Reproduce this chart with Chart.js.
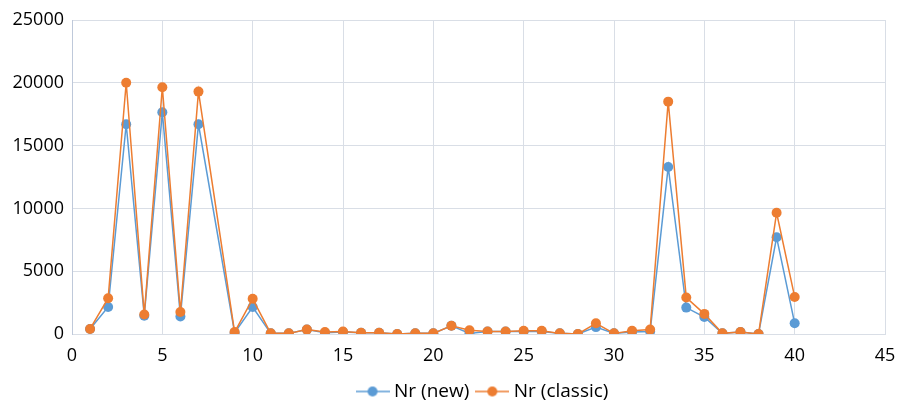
<!DOCTYPE html>
<html>
<head>
<meta charset="utf-8">
<script src="https://cdn.jsdelivr.net/npm/chart.js@4.4.1/dist/chart.umd.min.js"></script>
<style>
  html, body { margin: 0; padding: 0; background: #fff; }
  #wrap { width: 899px; height: 404px; position: relative; }
</style>
</head>
<body>
<div id="wrap"><canvas id="c"></canvas></div>
<script>
// x positions (no point at 8)
const xs = [1, 2, 3, 4, 5, 6, 7, 9, 10, 11, 12, 13, 14, 15, 16, 17, 18, 19, 20, 21,
  22, 23, 24, 25, 26, 27, 28, 29, 30, 31, 32, 33, 34, 35, 36, 37, 38, 39, 40]

const nrNew = [400, 2150, 16700, 1450, 17650, 1400, 16700, 100, 2150, 50, 50, 350, 100, 150, 100, 100, 0, 50, 50, 650,
  50, 200, 200, 200, 200, 50, 0, 550, 50, 150, 200, 13300, 2100, 1350, 50, 150, 0, 7700, 850]

const nrClassic = [400, 2850, 20000, 1550, 19650, 1750, 19300, 150, 2800, 50, 50, 350, 150, 200, 100, 100, 0, 50, 50, 650,
  300, 200, 200, 250, 250, 50, 0, 850, 50, 250, 350, 18500, 2900, 1600, 50, 150, 0, 9650, 2950]

const blue = "#5B9BD5"
const orange = "#ED7D31"
const fontFamily = "'Open Sans', 'Liberation Sans', sans-serif"

function toPoints(vals) {
  return xs.map((x, i) => ({ x: x, y: vals[i] }))
}

// legend marker: short line with a dot in the middle
function legendIcon(color) {
  const cv = document.createElement("canvas")
  cv.width = 34
  cv.height = 12
  const ctx = cv.getContext("2d")
  ctx.strokeStyle = color
  ctx.lineWidth = 1.5
  ctx.beginPath()
  ctx.moveTo(0, 6)
  ctx.lineTo(34, 6)
  ctx.stroke()
  ctx.fillStyle = color
  ctx.beginPath()
  ctx.arc(17, 6, 5, 0, Math.PI * 2)
  ctx.fill()
  return cv
}

// nudge the legend to where the original sits
const legendShift = {
  id: "legendShift",
  afterLayout(chart) {
    const lg = chart.legend
    lg.left += 42
    lg.right += 42
    lg.top += 7
    lg.bottom += 7
  }
}

new Chart(document.getElementById("c"), {
  type: "line",
  data: {
    datasets: [
      {
        label: "Nr (new)",
        data: toPoints(nrNew),
        borderColor: blue,
        backgroundColor: blue,
        borderWidth: 1.5,
        pointRadius: 5,
        pointHoverRadius: 5,
        pointBorderWidth: 0,
        tension: 0,
        order: 1
      },
      {
        label: "Nr (classic)",
        data: toPoints(nrClassic),
        borderColor: orange,
        backgroundColor: orange,
        borderWidth: 1.5,
        pointRadius: 5,
        pointHoverRadius: 5,
        pointBorderWidth: 0,
        tension: 0,
        order: 0
      }
    ]
  },
  plugins: [legendShift],
  options: {
    responsive: true,
    maintainAspectRatio: false,
    animation: false,
    layout: {
      padding: { left: 0, right: 14, top: 20, bottom: 0 }
    },
    plugins: {
      tooltip: { enabled: false },
      legend: {
        position: "bottom",
        labels: {
          font: { family: fontFamily, size: 19 },
          color: "#000",
          usePointStyle: true,
          pointStyleWidth: 24,
          boxWidth: 24,
          padding: 11,
          sort: (a, b) => a.datasetIndex - b.datasetIndex,
          generateLabels: (chart) => chart.data.datasets.map((ds, i) => ({
            text: ds.label,
            pointStyle: legendIcon(ds.borderColor),
            fillStyle: ds.borderColor,
            strokeStyle: ds.borderColor,
            lineWidth: 0,
            hidden: false,
            datasetIndex: i,
            fontColor: "#000"
          }))
        }
      }
    },
    scales: {
      x: {
        type: "linear",
        min: 0,
        max: 45,
        ticks: {
          stepSize: 5,
          color: "#000",
          font: { family: fontFamily, size: 18 },
          padding: 11,
          maxRotation: 0
        },
        grid: { color: "#D9DEE6", drawTicks: false },
        border: { color: "#D9DEE6" },
        afterFit: (scale) => {
          scale.height = 30
          scale.paddingRight = 0
        }
      },
      y: {
        min: 0,
        max: 25000,
        ticks: {
          stepSize: 5000,
          color: "#000",
          font: { family: fontFamily, size: 18 },
          padding: 8,
          callback: (v) => String(v)
        },
        grid: { color: "#D9DEE6", drawTicks: false },
        border: { color: "#BFC9DA" },
        afterFit: (scale) => {
          scale.width = 72
          scale.paddingTop = 0
          scale.paddingBottom = 0
        }
      }
    }
  }
})
</script>
</body>
</html>
